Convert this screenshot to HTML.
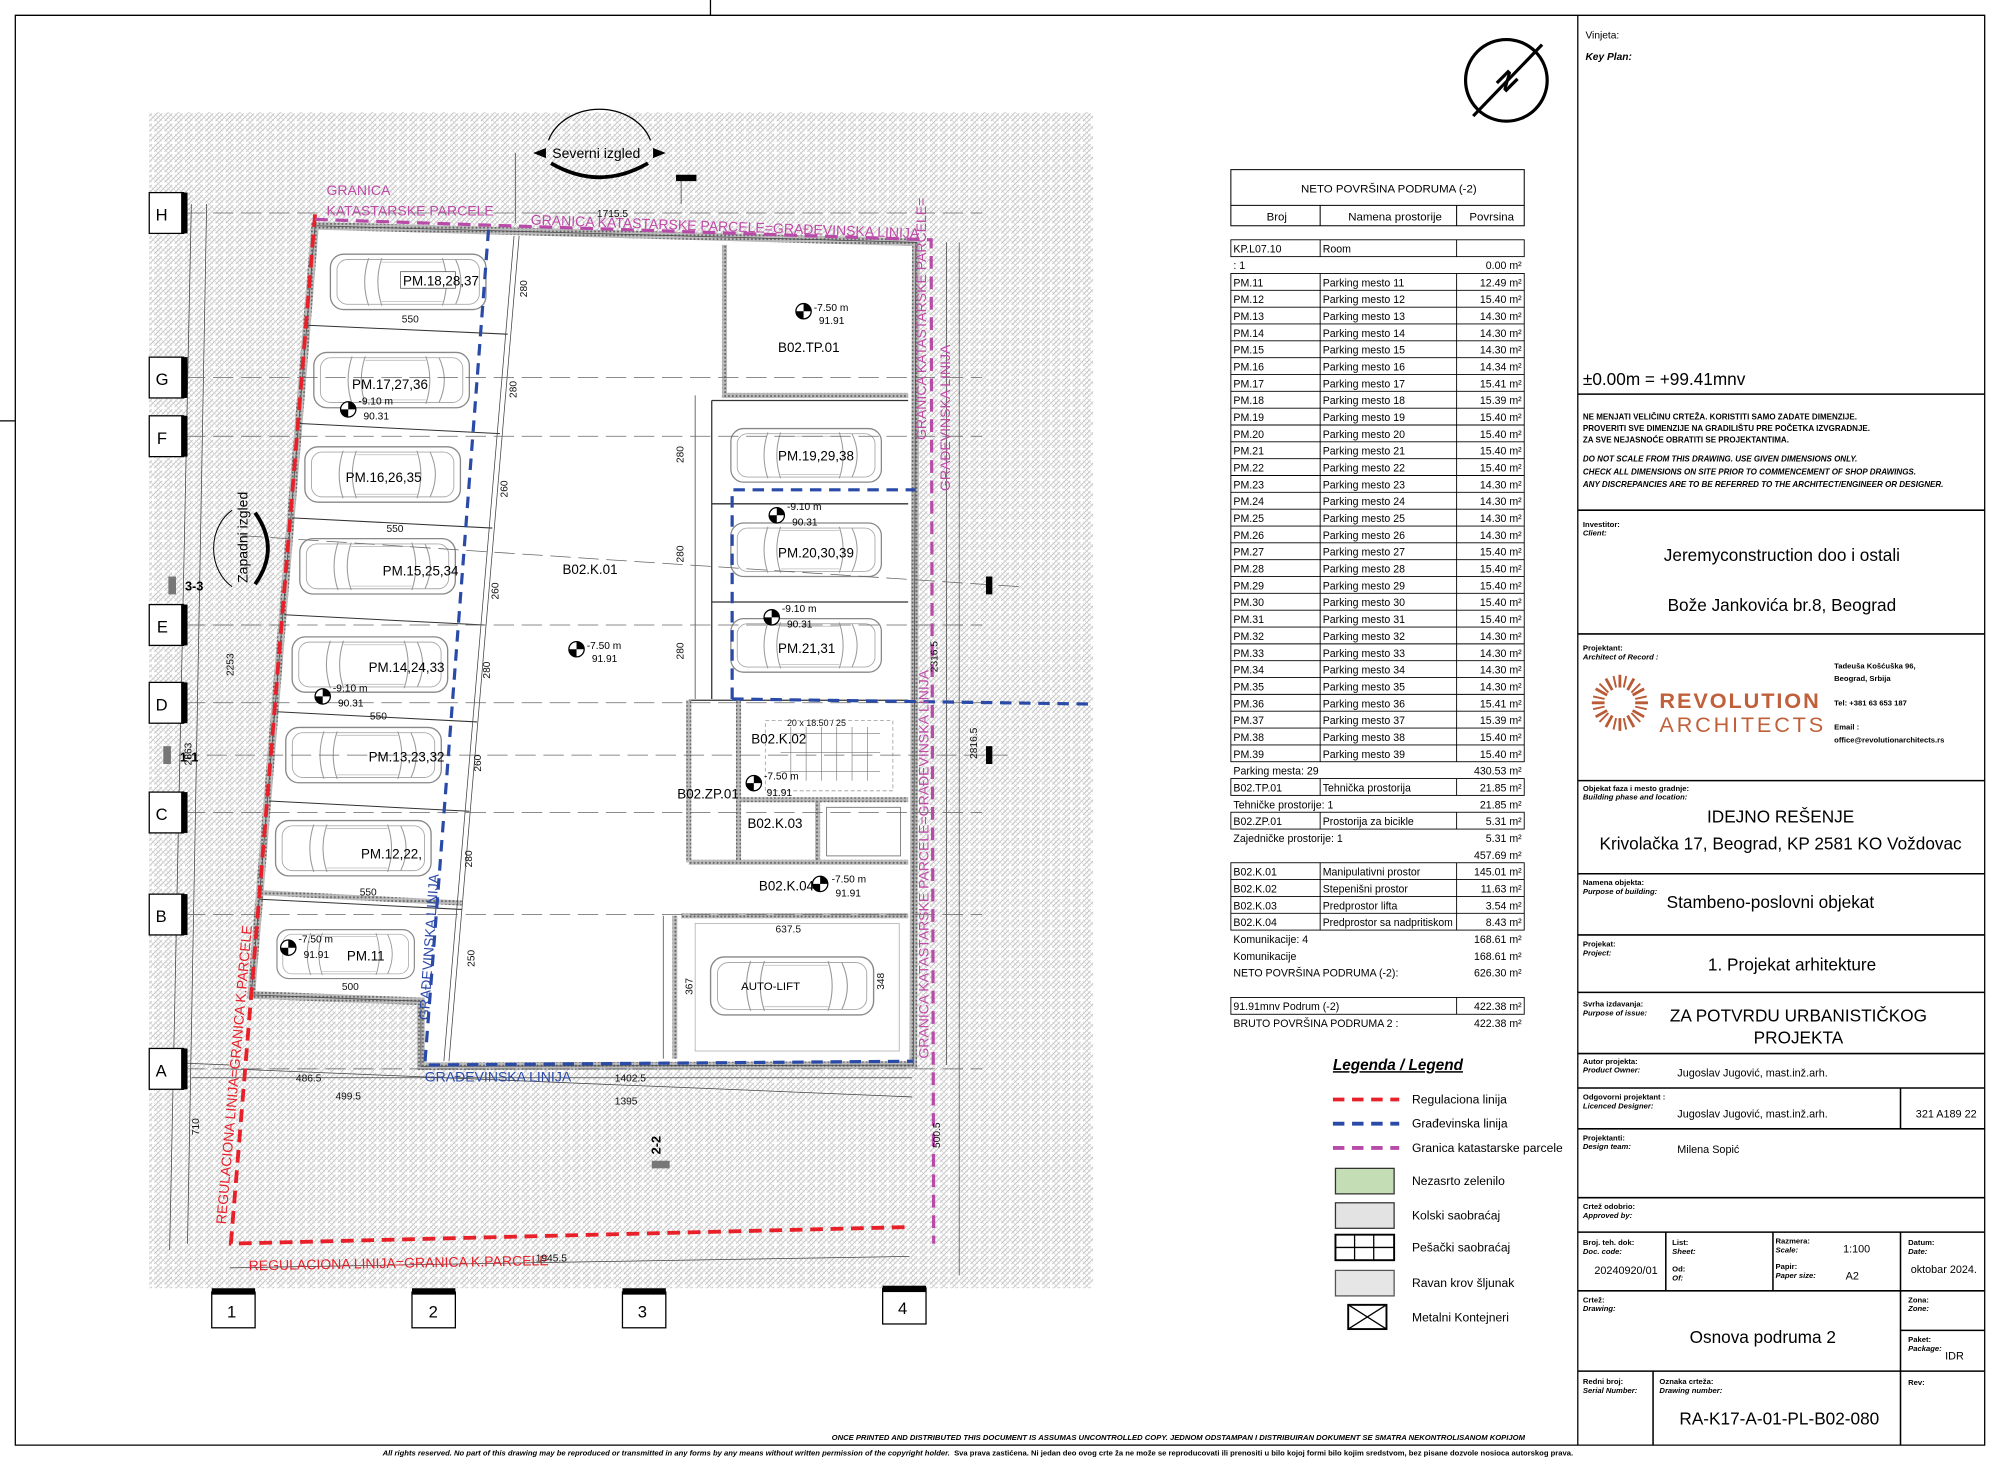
<!DOCTYPE html>
<html><head><meta charset="utf-8"><style>
html,body{margin:0;padding:0;background:#fff}
svg{display:block}
text{font-family:"Liberation Sans",sans-serif}
.n{font-family:"Liberation Sans Narrow","Liberation Sans",sans-serif}
</style></head><body>
<svg width="2000" height="1463" viewBox="0 0 1568 1147" xmlns="http://www.w3.org/2000/svg">
<defs>
<pattern id="h" width="8" height="8" patternUnits="userSpaceOnUse">
<rect width="8" height="8" fill="#fff"/>
<path d="M0 4L4 0M1 7L7 1M4 8L8 4" stroke="#b0b0b0" stroke-width="0.55"/>
<path d="M0 4L4 8M1 1L7 7M4 0L8 4" stroke="#cdcdcd" stroke-width="0.45"/>
</pattern>
<pattern id="w" width="3" height="3" patternUnits="userSpaceOnUse">
<rect width="3" height="3" fill="#bbb"/><circle cx="1.5" cy="1.5" r="0.8" fill="#666"/>
</pattern>
<symbol id="car" viewBox="0 0 120 46">
<rect x="1" y="2" width="118" height="42" rx="10" fill="#fff" stroke="#888" stroke-width="1"/>
<rect x="6" y="6" width="108" height="34" rx="8" fill="none" stroke="#aaa" stroke-width="0.7"/>
<path d="M30 5 Q24 23 30 41 M40 5 Q34 23 40 41 M86 5 Q92 23 86 41 M96 6 Q104 23 96 40" fill="none" stroke="#999" stroke-width="0.8"/>
<path d="M40 8 H86 M40 38 H86" stroke="#bbb" stroke-width="0.6"/>
</symbol>
</defs>

<g stroke="#000" stroke-width="1" fill="none">
<path d="M12 12 H1556 V1133 H12 Z"/>
<path d="M1237 12 V1133"/>
<path d="M557 0 V12 M0 330 H12"/>
</g>

<rect x="117" y="88" width="740" height="922" fill="url(#h)"/>

<polygon points="247,177 718,190 716,835 330,836 330,785 197,780" fill="#fff" stroke="url(#w)" stroke-width="6"/>
<polygon points="247,177 718,190 716,835 330,836 330,785 197,780" fill="none" stroke="#444" stroke-width="0.6"/>

<g stroke="#333" stroke-width="0.8">
<line x1="241" y1="255" x2="398" y2="262"/>
<line x1="235" y1="332" x2="392" y2="340"/>
<line x1="229" y1="406" x2="386" y2="414"/>
<line x1="223" y1="482" x2="380" y2="490"/>
<line x1="217" y1="558" x2="374" y2="566"/>
<line x1="211" y1="628" x2="368" y2="636"/>
<line x1="204" y1="705" x2="362" y2="713"/>
<line x1="206" y1="700" x2="362" y2="708" stroke="url(#w)" stroke-width="4"/>
</g>
<g stroke="#444" stroke-width="0.6" fill="none">
<line x1="407" y1="185" x2="352" y2="832"/>
<line x1="403" y1="185" x2="348" y2="832"/>
<line x1="545" y1="310" x2="545" y2="548"/>
<line x1="520" y1="718" x2="520" y2="830"/>
<line x1="150" y1="160" x2="133" y2="980"/>
<line x1="162" y1="160" x2="147" y2="975"/>
<line x1="132" y1="833" x2="180" y2="835"/>
<line x1="180" y1="838" x2="715" y2="860"/>
<line x1="150" y1="845" x2="715" y2="845"/>
<line x1="180" y1="994" x2="713" y2="985"/>
<line x1="742" y1="190" x2="742" y2="835"/>
<line x1="752" y1="190" x2="752" y2="1000"/>
<line x1="404" y1="120" x2="404" y2="175"/>
<line x1="534" y1="140" x2="534" y2="160"/>
</g>

<g stroke="#333" stroke-width="1" fill="none">
<path d="M568 192 V310 H712" stroke="url(#w)" stroke-width="4"/>
<path d="M558 314 H712 M558 314 V548 M558 395 H712 M558 472 H712 M540 549 H712"/>
<path d="M540 549 V676 M579 549 V676 M540 676 H712 M579 627 H712 M641 627 V674 M534 718 H712 M529 718 V830" stroke="url(#w)" stroke-width="4"/>
<rect x="600" y="565" width="100" height="55" stroke="#999" stroke-width="0.6" stroke-dasharray="3 2"/>
<rect x="648" y="633" width="58" height="38" stroke="#888" stroke-width="0.8"/>
<rect x="545" y="724" width="160" height="100" stroke="#aaa" stroke-width="0.6"/>
</g>
<g stroke="#777" stroke-width="0.5">
<line x1="612" y1="575" x2="690" y2="575"/><line x1="612" y1="590" x2="690" y2="590"/><line x1="612" y1="605" x2="690" y2="605"/>
<line x1="620" y1="570" x2="620" y2="612"/><line x1="632" y1="570" x2="632" y2="612"/><line x1="644" y1="570" x2="644" y2="612"/><line x1="656" y1="570" x2="656" y2="612"/><line x1="668" y1="570" x2="668" y2="612"/><line x1="680" y1="570" x2="680" y2="612"/>
</g>

<use href="#car" x="258" y="197" width="124" height="48"/>
<use href="#car" x="245" y="274" width="124" height="48"/>
<use href="#car" x="238" y="348" width="124" height="48"/>
<use href="#car" x="234" y="420" width="124" height="48"/>
<use href="#car" x="228" y="497" width="124" height="48"/>
<use href="#car" x="223" y="568" width="124" height="48"/>
<use href="#car" x="215" y="641" width="124" height="48"/>
<use href="#car" x="215" y="727" width="112" height="42"/>
<use href="#car" x="568" y="334" width="128" height="46"/>
<use href="#car" x="568" y="408" width="128" height="46"/>
<use href="#car" x="568" y="483" width="128" height="46"/>
<use href="#car" x="556" y="746" width="130" height="54"/>

<g stroke="#666" stroke-width="0.6" stroke-dasharray="16 6">
<line x1="145" y1="167" x2="770" y2="167"/>
<line x1="145" y1="296" x2="770" y2="296"/>
<line x1="145" y1="342" x2="770" y2="342"/>
<line x1="145" y1="490" x2="770" y2="490"/>
<line x1="145" y1="551" x2="770" y2="551"/>
<line x1="145" y1="637" x2="770" y2="637"/>
<line x1="145" y1="717" x2="770" y2="717"/>
<line x1="145" y1="838" x2="770" y2="838"/>
<line x1="190" y1="420" x2="800" y2="460"/>
<line x1="140" y1="592" x2="790" y2="592"/>
</g>

<polyline points="247,168 181,975 713,962" fill="none" stroke="#e8202a" stroke-width="3" stroke-dasharray="10 6"/>
<polyline points="383,180 333,835 716,832" fill="none" stroke="#2a4aa8" stroke-width="2.5" stroke-dasharray="9 6"/>
<polyline points="574,548 574,384 718,384" fill="none" stroke="#2a4aa8" stroke-width="2.5" stroke-dasharray="9 6"/>
<line x1="574" y1="548" x2="857" y2="552" stroke="#2a4aa8" stroke-width="2.5" stroke-dasharray="9 6"/>
<polyline points="247,172 730,188 732,975" fill="none" stroke="#b84aa8" stroke-width="2.5" stroke-dasharray="10 6"/>

<g fill="#c04aa8" font-size="11">
<text x="256" y="153">GRANICA</text>
<text x="256" y="169">KATASTARSKE PARCELE</text>
<text x="416" y="176" transform="rotate(2 416 176)">GRANICA KATASTARSKE PARCELE=GRAĐEVINSKA LINIJA</text>
<text x="726" y="345" transform="rotate(-90 726 345)">GRANICA KATASTARSKE PARCELE=</text>
<text x="745" y="385" transform="rotate(-90 745 385)">GRAĐEVINSKA LINIJA</text>
<text x="728" y="830" transform="rotate(-90 728 830)">GRANICA KATASTARSKE PARCELE=GRAĐEVINSKA LINIJA</text>
</g>
<g fill="#e8202a" font-size="11">
<text x="195" y="996" transform="rotate(-1 195 996)">REGULACIONA LINIJA=GRANICA K.PARCELE</text>
<text x="177" y="960" transform="rotate(-85 177 960)">REGULACIONA LINIJA=GRANICA K.PARCELE</text>
</g>
<g fill="#2a4aa8" font-size="11">
<text x="333" y="848">GRAĐEVINSKA LINIJA</text>
<text x="336" y="800" transform="rotate(-86 336 800)">GRAĐEVINSKA LINIJA</text>
</g>

<g font-size="10.5" class="n" fill="#000">
<rect x="314" y="213" width="43" height="13" fill="#fff" stroke="#555" stroke-width="0.6"/><text x="316" y="224" class="n">PM.18,28,37</text>
<text x="276" y="305" class="n">PM.17,27,36</text>
<text x="271" y="378" class="n">PM.16,26,35</text>
<text x="300" y="451" class="n">PM.15,25,34</text>
<text x="289" y="527" class="n">PM.14,24,33</text>
<text x="289" y="597" class="n">PM.13,23,32</text>
<text x="283" y="673" class="n">PM.12,22,</text>
<text x="272" y="753" class="n">PM.11</text>
<text x="610" y="361" class="n">PM.19,29,38</text>
<text x="610" y="437" class="n">PM.20,30,39</text>
<text x="610" y="512" class="n">PM.21,31</text>
<text x="441" y="450" class="n">B02.K.01</text>
<text x="610" y="276" class="n">B02.TP.01</text>
<text x="589" y="583" class="n">B02.K.02</text>
<text x="531" y="626" class="n">B02.ZP.01</text>
<text x="586" y="649" class="n">B02.K.03</text>
<text x="595" y="698" class="n">B02.K.04</text>
<text x="581" y="776" font-size="9" class="n">AUTO-LIFT</text>
</g>
<g font-size="8" class="n">
<g transform="translate(630,244)"><circle r="6" fill="#fff" stroke="#000"/><path d="M0 -6A6 6 0 0 1 6 0H0ZM0 6A6 6 0 0 1 -6 0H0Z"/><text x="8" y="0">-7.50 m</text><text x="12" y="10">91.91</text></g>
<g transform="translate(452,509)"><circle r="6" fill="#fff" stroke="#000"/><path d="M0 -6A6 6 0 0 1 6 0H0ZM0 6A6 6 0 0 1 -6 0H0Z"/><text x="8" y="0">-7.50 m</text><text x="12" y="10">91.91</text></g>
<g transform="translate(273,321)"><circle r="6" fill="#fff" stroke="#000"/><path d="M0 -6A6 6 0 0 1 6 0H0ZM0 6A6 6 0 0 1 -6 0H0Z"/><text x="8" y="-4">-9.10 m</text><text x="12" y="8">90.31</text></g>
<g transform="translate(253,546)"><circle r="6" fill="#fff" stroke="#000"/><path d="M0 -6A6 6 0 0 1 6 0H0ZM0 6A6 6 0 0 1 -6 0H0Z"/><text x="8" y="-4">-9.10 m</text><text x="12" y="8">90.31</text></g>
<g transform="translate(609,404)"><circle r="6" fill="#fff" stroke="#000"/><path d="M0 -6A6 6 0 0 1 6 0H0ZM0 6A6 6 0 0 1 -6 0H0Z"/><text x="8" y="-4">-9.10 m</text><text x="12" y="8">90.31</text></g>
<g transform="translate(605,484)"><circle r="6" fill="#fff" stroke="#000"/><path d="M0 -6A6 6 0 0 1 6 0H0ZM0 6A6 6 0 0 1 -6 0H0Z"/><text x="8" y="-4">-9.10 m</text><text x="12" y="8">90.31</text></g>
<g transform="translate(591,614)"><circle r="6" fill="#fff" stroke="#000"/><path d="M0 -6A6 6 0 0 1 6 0H0ZM0 6A6 6 0 0 1 -6 0H0Z"/><text x="8" y="-3">-7.50 m</text><text x="10" y="10">91.91</text></g>
<g transform="translate(643,693)"><circle r="6" fill="#fff" stroke="#000"/><path d="M0 -6A6 6 0 0 1 6 0H0ZM0 6A6 6 0 0 1 -6 0H0Z"/><text x="9" y="-1">-7.50 m</text><text x="12" y="10">91.91</text></g>
<g transform="translate(226,743)"><circle r="6" fill="#fff" stroke="#000"/><path d="M0 -6A6 6 0 0 1 6 0H0ZM0 6A6 6 0 0 1 -6 0H0Z"/><text x="8" y="-4">-7.50 m</text><text x="12" y="8">91.91</text></g>
</g>
<g font-size="8" class="n" fill="#111">
<text x="315" y="253">550</text><text x="303" y="417">550</text><text x="290" y="564">550</text><text x="282" y="702">550</text><text x="268" y="776">500</text>
<text x="468" y="170">1715.5</text>
<text x="608" y="731">637.5</text>
<text x="232" y="848">486.5</text><text x="263" y="862">499.5</text><text x="482" y="848">1402.5</text><text x="482" y="866">1395</text><text x="420" y="989">1945.5</text>
<text x="183" y="530" transform="rotate(-90 183 530)">2253</text>
<text x="150" y="600" transform="rotate(-90 150 600)">2863</text>
<text x="156" y="890" transform="rotate(-90 156 890)">710</text>
<text x="735" y="527" transform="rotate(-90 735 527)">2316.5</text>
<text x="766" y="595" transform="rotate(-90 766 595)">2816.5</text>
<text x="737" y="900" transform="rotate(-90 737 900)">500.5</text>
<text x="413" y="233" transform="rotate(-90 413 233)">280</text>
<text x="405" y="312" transform="rotate(-90 405 312)">280</text>
<text x="398" y="390" transform="rotate(-90 398 390)">260</text>
<text x="391" y="470" transform="rotate(-90 391 470)">260</text>
<text x="384" y="532" transform="rotate(-90 384 532)">280</text>
<text x="377" y="605" transform="rotate(-90 377 605)">260</text>
<text x="370" y="680" transform="rotate(-90 370 680)">280</text>
<text x="372" y="758" transform="rotate(-90 372 758)">250</text>
<text x="536" y="363" transform="rotate(-90 536 363)">280</text>
<text x="536" y="441" transform="rotate(-90 536 441)">280</text>
<text x="536" y="517" transform="rotate(-90 536 517)">280</text>
<text x="543" y="780" transform="rotate(-90 543 780)">367</text>
<text x="693" y="776" transform="rotate(-90 693 776)">348</text>
<text x="617" y="569" font-size="7">20 x 18.50 / 25</text>
</g>
<g font-size="13">
<g><rect x="117" y="151" width="27" height="32" fill="#fff" stroke="#000"/><rect x="142" y="151" width="5" height="32"/><text x="122" y="173">H</text></g>
<g><rect x="117" y="280" width="27" height="32" fill="#fff" stroke="#000"/><rect x="142" y="280" width="5" height="32"/><text x="122" y="302">G</text></g>
<g><rect x="117" y="326" width="27" height="32" fill="#fff" stroke="#000"/><rect x="142" y="326" width="5" height="32"/><text x="123" y="348">F</text></g>
<g><rect x="117" y="474" width="27" height="32" fill="#fff" stroke="#000"/><rect x="142" y="474" width="5" height="32"/><text x="123" y="496">E</text></g>
<g><rect x="117" y="535" width="27" height="32" fill="#fff" stroke="#000"/><rect x="142" y="535" width="5" height="32"/><text x="122" y="557">D</text></g>
<g><rect x="117" y="621" width="27" height="32" fill="#fff" stroke="#000"/><rect x="142" y="621" width="5" height="32"/><text x="122" y="643">C</text></g>
<g><rect x="117" y="701" width="27" height="32" fill="#fff" stroke="#000"/><rect x="142" y="701" width="5" height="32"/><text x="122" y="723">B</text></g>
<g><rect x="117" y="822" width="27" height="32" fill="#fff" stroke="#000"/><rect x="142" y="822" width="5" height="32"/><text x="122" y="844">A</text></g>
<g><rect x="166" y="1013" width="34" height="28" fill="#fff" stroke="#000"/><rect x="166" y="1010" width="34" height="5"/><text x="178" y="1033">1</text></g>
<g><rect x="323" y="1013" width="34" height="28" fill="#fff" stroke="#000"/><rect x="323" y="1010" width="34" height="5"/><text x="336" y="1033">2</text></g>
<g><rect x="488" y="1013" width="34" height="28" fill="#fff" stroke="#000"/><rect x="488" y="1010" width="34" height="5"/><text x="500" y="1033">3</text></g>
<g><rect x="692" y="1010" width="34" height="28" fill="#fff" stroke="#000"/><rect x="692" y="1008" width="34" height="5"/><text x="704" y="1030">4</text></g>
</g>
<g font-size="10" font-weight="bold">
<rect x="132" y="452" width="6" height="14" fill="#777"/><text x="145" y="463">3-3</text>
<rect x="128" y="585" width="6" height="14" fill="#777"/><text x="141" y="597">1-1</text>
<rect x="511" y="910" width="14" height="6" fill="#777"/><text x="518" y="905" transform="rotate(-90 518 905)">2-2</text>
<rect x="773" y="452" width="5" height="14"/><rect x="773" y="585" width="5" height="14"/><rect x="530" y="137" width="16" height="5"/>
</g>
<g><path d="M430 110 A42 35 0 0 1 510 110" fill="none" stroke="#000"/>
<path d="M418 120 L428 116 L428 124Z M522 120 L512 116 L512 124Z"/>
<path d="M432 128 Q470 150 508 128" fill="none" stroke="#000" stroke-width="3"/>
<text x="433" y="124" font-size="11">Severni izgled</text></g>
<g transform="translate(192,430) rotate(-90)"><path d="M-30 -10 A35 30 0 0 1 30 -10" fill="none" stroke="#000" stroke-width="0.8"/>
<path d="M-28 8 Q0 28 28 8" fill="none" stroke="#000" stroke-width="3"/>
<text x="-27" y="2" font-size="11">Zapadni izgled</text></g>
<g transform="translate(1181,63)"><circle r="32" fill="none" stroke="#000" stroke-width="2.5"/>
<line x1="-26" y1="28" x2="28" y2="-28" stroke="#000" stroke-width="2.5"/>
<text x="-8" y="7" font-size="20" font-weight="bold" transform="rotate(-135)">N</text></g>

<g stroke="#000" stroke-width="0.8" fill="none">
<rect x="965" y="133" width="230" height="44"/><line x1="965" y1="161" x2="1195" y2="161"/>
<line x1="1035" y1="161" x2="1035" y2="177"/><line x1="1142" y1="161" x2="1142" y2="177"/>
</g>
<text x="1020" y="151" font-size="9" class="n">NETO POVRŠINA PODRUMA (-2)</text>
<text x="993" y="173" font-size="9" class="n">Broj</text><text x="1057" y="173" font-size="9" class="n">Namena prostorije</text><text x="1152" y="173" font-size="9" class="n">Povrsina</text>
<g stroke="#000" stroke-width="0.7" fill="none">
<rect x="965" y="188" width="230" height="13.2"/>
<rect x="965" y="214.4" width="230" height="382.8"/>
<rect x="965" y="610.4" width="230" height="13.2"/>
<rect x="965" y="636.8" width="230" height="13.2"/>
<rect x="965" y="676.4" width="230" height="52.8"/>
<rect x="965" y="782" width="230" height="13.2"/>
<line x1="1035" y1="188" x2="1035" y2="201.2"/><line x1="1142" y1="188" x2="1142" y2="201.2"/>
<line x1="1035" y1="214.4" x2="1035" y2="597.2"/><line x1="1142" y1="214.4" x2="1142" y2="597.2"/>
<line x1="1035" y1="610.4" x2="1035" y2="623.6"/><line x1="1142" y1="610.4" x2="1142" y2="623.6"/>
<line x1="1035" y1="636.8" x2="1035" y2="650"/><line x1="1142" y1="636.8" x2="1142" y2="650"/>
<line x1="1035" y1="676.4" x2="1035" y2="729.2"/><line x1="1142" y1="676.4" x2="1142" y2="729.2"/>
<line x1="1142" y1="782" x2="1142" y2="795.2"/>
<path d="M965 227.6H1195M965 240.8H1195M965 254H1195M965 267.2H1195M965 280.4H1195M965 293.6H1195M965 306.8H1195M965 320H1195M965 333.2H1195M965 346.4H1195M965 359.6H1195M965 372.8H1195M965 386H1195M965 399.2H1195M965 412.4H1195M965 425.6H1195M965 438.8H1195M965 452H1195M965 465.2H1195M965 478.4H1195M965 491.6H1195M965 504.8H1195M965 518H1195M965 531.2H1195M965 544.4H1195M965 557.6H1195M965 570.8H1195M965 584H1195M965 689.6H1195M965 702.8H1195M965 716H1195"/>
</g>
<g font-size="8.3" class="n">
<text x="967" y="198">KP.L07.10</text><text x="1037" y="198">Room</text>
<text x="967" y="211">: 1</text><text x="1193" y="211" text-anchor="end">0.00 m²</text>
<text x="967" y="224.5">PM.11</text><text x="1037" y="224.5">Parking mesto 11</text><text x="1193" y="224.5" text-anchor="end">12.49 m²</text>
<text x="967" y="237.7">PM.12</text><text x="1037" y="237.7">Parking mesto 12</text><text x="1193" y="237.7" text-anchor="end">15.40 m²</text>
<text x="967" y="250.9">PM.13</text><text x="1037" y="250.9">Parking mesto 13</text><text x="1193" y="250.9" text-anchor="end">14.30 m²</text>
<text x="967" y="264.1">PM.14</text><text x="1037" y="264.1">Parking mesto 14</text><text x="1193" y="264.1" text-anchor="end">14.30 m²</text>
<text x="967" y="277.3">PM.15</text><text x="1037" y="277.3">Parking mesto 15</text><text x="1193" y="277.3" text-anchor="end">14.30 m²</text>
<text x="967" y="290.5">PM.16</text><text x="1037" y="290.5">Parking mesto 16</text><text x="1193" y="290.5" text-anchor="end">14.34 m²</text>
<text x="967" y="303.7">PM.17</text><text x="1037" y="303.7">Parking mesto 17</text><text x="1193" y="303.7" text-anchor="end">15.41 m²</text>
<text x="967" y="316.9">PM.18</text><text x="1037" y="316.9">Parking mesto 18</text><text x="1193" y="316.9" text-anchor="end">15.39 m²</text>
<text x="967" y="330.1">PM.19</text><text x="1037" y="330.1">Parking mesto 19</text><text x="1193" y="330.1" text-anchor="end">15.40 m²</text>
<text x="967" y="343.3">PM.20</text><text x="1037" y="343.3">Parking mesto 20</text><text x="1193" y="343.3" text-anchor="end">15.40 m²</text>
<text x="967" y="356.5">PM.21</text><text x="1037" y="356.5">Parking mesto 21</text><text x="1193" y="356.5" text-anchor="end">15.40 m²</text>
<text x="967" y="369.7">PM.22</text><text x="1037" y="369.7">Parking mesto 22</text><text x="1193" y="369.7" text-anchor="end">15.40 m²</text>
<text x="967" y="382.9">PM.23</text><text x="1037" y="382.9">Parking mesto 23</text><text x="1193" y="382.9" text-anchor="end">14.30 m²</text>
<text x="967" y="396.1">PM.24</text><text x="1037" y="396.1">Parking mesto 24</text><text x="1193" y="396.1" text-anchor="end">14.30 m²</text>
<text x="967" y="409.3">PM.25</text><text x="1037" y="409.3">Parking mesto 25</text><text x="1193" y="409.3" text-anchor="end">14.30 m²</text>
<text x="967" y="422.5">PM.26</text><text x="1037" y="422.5">Parking mesto 26</text><text x="1193" y="422.5" text-anchor="end">14.30 m²</text>
<text x="967" y="435.7">PM.27</text><text x="1037" y="435.7">Parking mesto 27</text><text x="1193" y="435.7" text-anchor="end">15.40 m²</text>
<text x="967" y="448.9">PM.28</text><text x="1037" y="448.9">Parking mesto 28</text><text x="1193" y="448.9" text-anchor="end">15.40 m²</text>
<text x="967" y="462.1">PM.29</text><text x="1037" y="462.1">Parking mesto 29</text><text x="1193" y="462.1" text-anchor="end">15.40 m²</text>
<text x="967" y="475.3">PM.30</text><text x="1037" y="475.3">Parking mesto 30</text><text x="1193" y="475.3" text-anchor="end">15.40 m²</text>
<text x="967" y="488.5">PM.31</text><text x="1037" y="488.5">Parking mesto 31</text><text x="1193" y="488.5" text-anchor="end">15.40 m²</text>
<text x="967" y="501.7">PM.32</text><text x="1037" y="501.7">Parking mesto 32</text><text x="1193" y="501.7" text-anchor="end">14.30 m²</text>
<text x="967" y="514.9">PM.33</text><text x="1037" y="514.9">Parking mesto 33</text><text x="1193" y="514.9" text-anchor="end">14.30 m²</text>
<text x="967" y="528.1">PM.34</text><text x="1037" y="528.1">Parking mesto 34</text><text x="1193" y="528.1" text-anchor="end">14.30 m²</text>
<text x="967" y="541.3">PM.35</text><text x="1037" y="541.3">Parking mesto 35</text><text x="1193" y="541.3" text-anchor="end">14.30 m²</text>
<text x="967" y="554.5">PM.36</text><text x="1037" y="554.5">Parking mesto 36</text><text x="1193" y="554.5" text-anchor="end">15.41 m²</text>
<text x="967" y="567.7">PM.37</text><text x="1037" y="567.7">Parking mesto 37</text><text x="1193" y="567.7" text-anchor="end">15.39 m²</text>
<text x="967" y="580.9">PM.38</text><text x="1037" y="580.9">Parking mesto 38</text><text x="1193" y="580.9" text-anchor="end">15.40 m²</text>
<text x="967" y="594.1">PM.39</text><text x="1037" y="594.1">Parking mesto 39</text><text x="1193" y="594.1" text-anchor="end">15.40 m²</text>
<text x="967" y="607.3">Parking mesta: 29</text><text x="1193" y="607.3" text-anchor="end">430.53 m²</text>
<text x="967" y="620.5">B02.TP.01</text><text x="1037" y="620.5">Tehnička prostorija</text><text x="1193" y="620.5" text-anchor="end">21.85 m²</text>
<text x="967" y="633.7">Tehničke prostorije: 1</text><text x="1193" y="633.7" text-anchor="end">21.85 m²</text>
<text x="967" y="646.9">B02.ZP.01</text><text x="1037" y="646.9">Prostorija za bicikle</text><text x="1193" y="646.9" text-anchor="end">5.31 m²</text>
<text x="967" y="660.1">Zajedničke prostorije: 1</text><text x="1193" y="660.1" text-anchor="end">5.31 m²</text>
<text x="1193" y="673.3" text-anchor="end">457.69 m²</text>
<text x="967" y="686.5">B02.K.01</text><text x="1037" y="686.5">Manipulativni prostor</text><text x="1193" y="686.5" text-anchor="end">145.01 m²</text>
<text x="967" y="699.7">B02.K.02</text><text x="1037" y="699.7">Stepenišni prostor</text><text x="1193" y="699.7" text-anchor="end">11.63 m²</text>
<text x="967" y="712.9">B02.K.03</text><text x="1037" y="712.9">Predprostor lifta</text><text x="1193" y="712.9" text-anchor="end">3.54 m²</text>
<text x="967" y="726.1">B02.K.04</text><text x="1037" y="726.1" textLength="102" lengthAdjust="spacingAndGlyphs">Predprostor sa nadpritiskom</text><text x="1193" y="726.1" text-anchor="end">8.43 m²</text>
<text x="967" y="739.3">Komunikacije: 4</text><text x="1193" y="739.3" text-anchor="end">168.61 m²</text>
<text x="967" y="752.5">Komunikacije</text><text x="1193" y="752.5" text-anchor="end">168.61 m²</text>
<text x="967" y="765.7">NETO POVRŠINA PODRUMA (-2):</text><text x="1193" y="765.7" text-anchor="end">626.30 m²</text>
<text x="967" y="792">91.91mnv Podrum (-2)</text><text x="1193" y="792" text-anchor="end">422.38 m²</text>
<text x="967" y="805.2">BRUTO POVRŠINA PODRUMA 2 :</text><text x="1193" y="805.2" text-anchor="end">422.38 m²</text>
</g>

<g class="n" font-size="9.5">
<text x="1045" y="839" font-size="12" font-weight="bold" font-style="italic" text-decoration="underline">Legenda / Legend</text>
<line x1="1045" y1="862" x2="1097" y2="862" stroke="#e8202a" stroke-width="3" stroke-dasharray="9 6"/><text x="1107" y="865">Regulaciona linija</text>
<line x1="1045" y1="881" x2="1097" y2="881" stroke="#2a4aa8" stroke-width="3" stroke-dasharray="9 6"/><text x="1107" y="884">Građevinska linija</text>
<line x1="1045" y1="900" x2="1097" y2="900" stroke="#b84aa8" stroke-width="3" stroke-dasharray="9 6"/><text x="1107" y="903">Granica katastarske parcele</text>
<rect x="1047" y="916" width="46" height="20" fill="#c5ddb5" stroke="#333"/><text x="1107" y="929">Nezasrto zelenilo</text>
<rect x="1047" y="943" width="46" height="20" fill="#e3e3e3" stroke="#333"/><text x="1107" y="956">Kolski saobraćaj</text>
<rect x="1047" y="968" width="46" height="20" fill="#fff" stroke="#000" stroke-width="1.5"/><path d="M1047 978H1093M1062 968V988M1077 968V988" stroke="#000"/><text x="1107" y="981">Pešački saobraćaj</text>
<rect x="1047" y="996" width="46" height="20" fill="#e6e6e6" stroke="#555"/><text x="1107" y="1009">Ravan krov šljunak</text>
<rect x="1057" y="1023" width="30" height="19" fill="#fff" stroke="#000" stroke-width="1.5"/><path d="M1057 1023L1087 1042M1087 1023L1057 1042" stroke="#000"/><text x="1107" y="1036">Metalni Kontejneri</text>
</g>

<g stroke="#000" stroke-width="1.2" fill="none">
<path d="M1237 309H1556M1237 400H1556M1237 497H1556M1237 612H1556M1237 685H1556M1237 733H1556M1237 778H1556M1237 826H1556M1237 853H1556M1237 885H1556M1237 939H1556M1237 966H1556M1237 1012H1556M1237 1075H1556"/>
<path d="M1490 853V885M1306 966V1012M1390 966V1012M1490 966V1075M1490 1043H1556M1296 1075V1133M1490 1075V1133"/>
</g>
<g font-size="7">
<text x="1243" y="30" font-size="8">Vinjeta:</text>
<text x="1243" y="47" font-size="8" font-weight="bold" font-style="italic">Key Plan:</text>
<text x="1241" y="302" font-size="13.5">±0.00m = +99.41mnv</text>
<g font-size="6.3" font-weight="bold"><text x="1241" y="329">NE MENJATI VELIČINU CRTEŽA. KORISTITI SAMO ZADATE DIMENZIJE.</text>
<text x="1241" y="338">PROVERITI SVE DIMENZIJE NA GRADILIŠTU PRE POČETKA IZVGRADNJE.</text>
<text x="1241" y="347">ZA SVE NEJASNOĆE OBRATITI SE PROJEKTANTIMA.</text>
<g font-style="italic"><text x="1241" y="362">DO NOT SCALE FROM THIS DRAWING. USE GIVEN DIMENSIONS ONLY.</text>
<text x="1241" y="372">CHECK ALL DIMENSIONS ON SITE PRIOR TO COMMENCEMENT OF SHOP DRAWINGS.</text>
<text x="1241" y="382">ANY DISCREPANCIES ARE TO BE REFERRED TO THE ARCHITECT/ENGINEER OR DESIGNER.</text></g></g>
<g font-weight="bold" font-size="6"><text x="1241" y="413">Investitor:</text><text x="1241" y="420" font-style="italic">Client:</text>
<text x="1241" y="510">Projektant:</text><text x="1241" y="517" font-style="italic">Architect of Record :</text>
<text x="1241" y="620">Objekat faza i mesto gradnje:</text><text x="1241" y="627" font-style="italic">Building phase and location:</text>
<text x="1241" y="694">Namena objekta:</text><text x="1241" y="701" font-style="italic">Purpose of building:</text>
<text x="1241" y="742">Projekat:</text><text x="1241" y="749" font-style="italic">Project:</text>
<text x="1241" y="789">Svrha izdavanja:</text><text x="1241" y="796" font-style="italic">Purpose of issue:</text>
<text x="1241" y="834">Autor projekta:</text><text x="1241" y="841" font-style="italic">Product Owner:</text>
<text x="1241" y="862">Odgovorni projektant :</text><text x="1241" y="869" font-style="italic">Licenced Designer:</text>
<text x="1241" y="894">Projektanti:</text><text x="1241" y="901" font-style="italic">Design team:</text>
<text x="1241" y="948">Crtež odobrio:</text><text x="1241" y="955" font-style="italic">Approved by:</text>
<text x="1241" y="976">Broj. teh. dok:</text><text x="1241" y="983" font-style="italic">Doc. code:</text>
<text x="1311" y="976">List:</text><text x="1311" y="983" font-style="italic">Sheet:</text>
<text x="1311" y="997">Od:</text><text x="1311" y="1004" font-style="italic">Of:</text>
<text x="1392" y="975">Razmera:</text><text x="1392" y="982" font-style="italic">Scale:</text>
<text x="1392" y="995">Papir:</text><text x="1392" y="1002" font-style="italic">Paper size:</text>
<text x="1496" y="976">Datum:</text><text x="1496" y="983" font-style="italic">Date:</text>
<text x="1241" y="1021">Crtež:</text><text x="1241" y="1028" font-style="italic">Drawing:</text>
<text x="1496" y="1021">Zona:</text><text x="1496" y="1028" font-style="italic">Zone:</text>
<text x="1496" y="1052">Paket:</text><text x="1496" y="1059" font-style="italic">Package:</text>
<text x="1241" y="1085">Redni broj:</text><text x="1241" y="1092" font-style="italic">Serial Number:</text>
<text x="1301" y="1085">Oznaka crteža:</text><text x="1301" y="1092" font-style="italic">Drawing number:</text>
<text x="1496" y="1086">Rev:</text>
<text x="1438" y="524">Tadeuša Košćuška 96,</text><text x="1438" y="534">Beograd, Srbija</text>
<text x="1438" y="553">Tel: +381 63 653 187</text><text x="1438" y="572">Email :</text><text x="1438" y="582">office@revolutionarchitects.rs</text>
</g>
<g font-size="13.5" text-anchor="middle">
<text x="1397" y="440">Jeremyconstruction doo i ostali</text>
<text x="1397" y="479">Bože Jankovića br.8, Beograd</text>
<text x="1396" y="645">IDEJNO REŠENJE</text>
<text x="1396" y="666">Krivolačka 17, Beograd, KP 2581 KO Voždovac</text>
<text x="1388" y="712">Stambeno-poslovni objekat</text>
<text x="1405" y="761">1. Projekat arhitekture</text>
<text x="1410" y="801">ZA POTVRDU URBANISTIČKOG</text>
<text x="1410" y="818">PROJEKTA</text>
<text x="1382" y="1053">Osnova podruma 2</text>
<text x="1395" y="1117">RA-K17-A-01-PL-B02-080</text>
</g>
<g font-size="8.5"><text x="1315" y="844">Jugoslav Jugović, mast.inž.arh.</text>
<text x="1315" y="876">Jugoslav Jugović, mast.inž.arh.</text><text x="1502" y="876">321 A189 22</text>
<text x="1315" y="904">Milena Sopić</text>
<text x="1250" y="999">20240920/01</text><text x="1445" y="982">1:100</text><text x="1447" y="1003">A2</text><text x="1498" y="998">oktobar 2024.</text><text x="1525" y="1066">IDR</text></g>
<g transform="translate(1270,551)" stroke="#b85a35" stroke-width="2.2">
<path d="M0 -22V-12M11 -19L6 -10M19 -11L10 -6M22 0H12M19 11L10 6M11 19L6 10M0 22V12M-11 19L-6 10M-19 11L-10 6M-22 0H-12M-19 -11L-10 -6M-11 -19L-6 -10"/>
<path d="M5 -21L3 -12M16 -15L9 -8M21 -5L12 -3M21 5L12 3M16 15L9 8M5 21L3 12M-5 21L-3 12M-16 15L-9 8M-21 5L-12 3M-21 -5L-12 -3M-16 -15L-9 -8M-5 -21L-3 -12" stroke-width="1.5"/>
</g>
<text x="1301" y="555" font-size="17" font-weight="bold" fill="#c0603a" letter-spacing="1.5">REVOLUTION</text>
<text x="1301" y="574" font-size="17" fill="#c0603a" letter-spacing="2.2">ARCHITECTS</text>
</g>

<g font-size="6" font-weight="bold" font-style="italic">
<text x="652" y="1129">ONCE PRINTED AND DISTRIBUTED THIS DOCUMENT IS ASSUMAS UNCONTROLLED COPY.   JEDNOM ODSTAMPAN I DISTRIBUIRAN DOKUMENT SE SMATRA NEKONTROLISANOM KOPIJOM</text>
<text x="300" y="1141">All rights reserved. No part of this drawing may be reproduced or transmitted in any forms by any means without written permission of the copyright holder.</text>
<text x="748" y="1141" font-style="normal">Sva prava zastićena. Ni jedan deo ovog crte ža ne može se reproducovati ili prenositi u bilo kojoj formi bilo kojim sredstvom, bez pisane dozvole nosioca autorskog prava.</text>
</g>
</svg>
</body></html>
